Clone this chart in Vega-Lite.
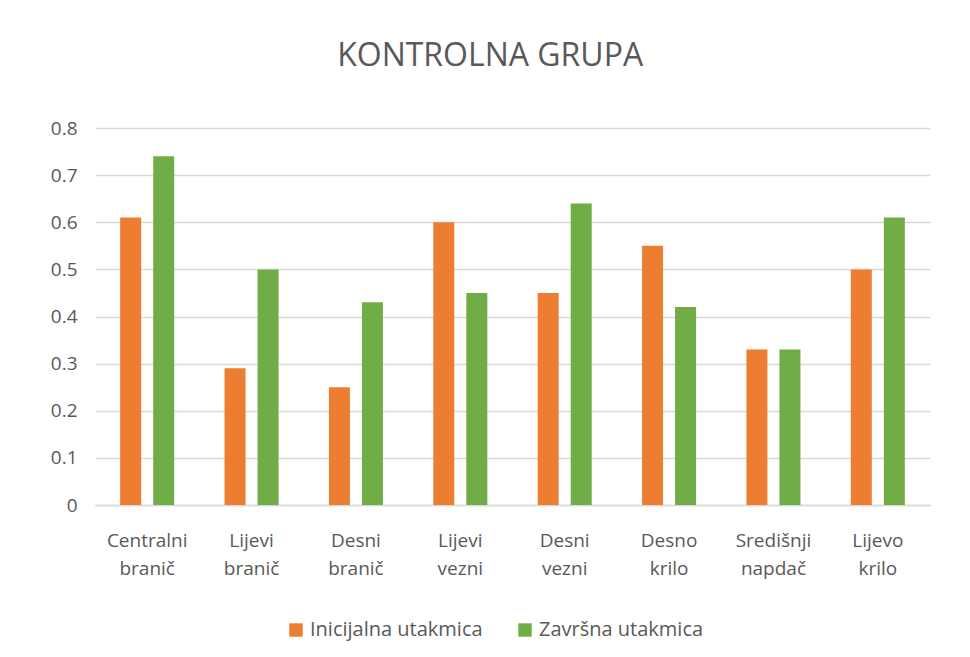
{
  "$schema": "https://vega.github.io/schema/vega-lite/v6.json",
  "width": 835,
  "height": 377,
  "autosize": {"type": "pad"},
  "padding": {"left": 50, "top": 40, "right": 38, "bottom": 15},
  "background": "white",
  "title": {
    "text": "KONTROLNA GRUPA",
    "fontSize": 32,
    "font": "Open Sans",
    "fontWeight": "normal",
    "color": "#595959",
    "anchor": "middle",
    "frame": "bounds",
    "offset": 46
  },
  "data": {
    "values": [
      {"pozicija": "Centralni branič", "serija": "Inicijalna utakmica", "vrijednost": 0.61},
      {"pozicija": "Centralni branič", "serija": "Završna utakmica", "vrijednost": 0.74},
      {"pozicija": "Lijevi branič", "serija": "Inicijalna utakmica", "vrijednost": 0.29},
      {"pozicija": "Lijevi branič", "serija": "Završna utakmica", "vrijednost": 0.50},
      {"pozicija": "Desni branič", "serija": "Inicijalna utakmica", "vrijednost": 0.25},
      {"pozicija": "Desni branič", "serija": "Završna utakmica", "vrijednost": 0.43},
      {"pozicija": "Lijevi vezni", "serija": "Inicijalna utakmica", "vrijednost": 0.60},
      {"pozicija": "Lijevi vezni", "serija": "Završna utakmica", "vrijednost": 0.45},
      {"pozicija": "Desni vezni", "serija": "Inicijalna utakmica", "vrijednost": 0.45},
      {"pozicija": "Desni vezni", "serija": "Završna utakmica", "vrijednost": 0.64},
      {"pozicija": "Desno krilo", "serija": "Inicijalna utakmica", "vrijednost": 0.55},
      {"pozicija": "Desno krilo", "serija": "Završna utakmica", "vrijednost": 0.42},
      {"pozicija": "Središnji napdač", "serija": "Inicijalna utakmica", "vrijednost": 0.33},
      {"pozicija": "Središnji napdač", "serija": "Završna utakmica", "vrijednost": 0.33},
      {"pozicija": "Lijevo krilo", "serija": "Inicijalna utakmica", "vrijednost": 0.50},
      {"pozicija": "Lijevo krilo", "serija": "Završna utakmica", "vrijednost": 0.61}
    ]
  },
  "mark": {"type": "bar", "width": 21},
  "encoding": {
    "x": {
      "field": "pozicija",
      "type": "nominal",
      "sort": null,
      "scale": {"paddingInner": 0, "paddingOuter": 0},
      "axis": {
        "title": null,
        "labelAngle": 0,
        "labelExpr": "split(datum.label, ' ')",
        "labelFont": "Open Sans",
        "labelFontSize": 19,
        "labelColor": "#595959",
        "labelPadding": 26,
        "labelLineHeight": 28,
        "ticks": false,
        "domainColor": "#D9D9D9",
        "domainWidth": 1.5,
        "grid": false
      }
    },
    "xOffset": {
      "field": "serija",
      "type": "nominal",
      "scale": {"paddingInner": 0, "paddingOuter": 0.58}
    },
    "y": {
      "field": "vrijednost",
      "type": "quantitative",
      "scale": {"domain": [0, 0.8]},
      "axis": {
        "title": null,
        "values": [0, 0.1, 0.2, 0.3, 0.4, 0.5, 0.6, 0.7, 0.8],
        "format": ".1~f",
        "labelFont": "Open Sans",
        "labelFontSize": 19,
        "labelColor": "#595959",
        "labelPadding": 18,
        "ticks": false,
        "domain": false,
        "gridColor": "#D9D9D9",
        "gridWidth": 1.5
      }
    },
    "color": {
      "field": "serija",
      "type": "nominal",
      "scale": {
        "domain": ["Inicijalna utakmica", "Završna utakmica"],
        "range": ["#ED7D31", "#70AD47"]
      },
      "legend": {
        "title": null,
        "orient": "none",
        "legendX": 191,
        "legendY": 492,
        "direction": "horizontal",
        "symbolType": "square",
        "symbolSize": 180,
        "symbolStrokeWidth": 0,
        "labelFont": "Open Sans",
        "labelFontSize": 20,
        "labelLimit": 400,
        "labelColor": "#595959",
        "columnPadding": 32
      }
    }
  },
  "config": {
    "view": {"stroke": null}
  }
}
